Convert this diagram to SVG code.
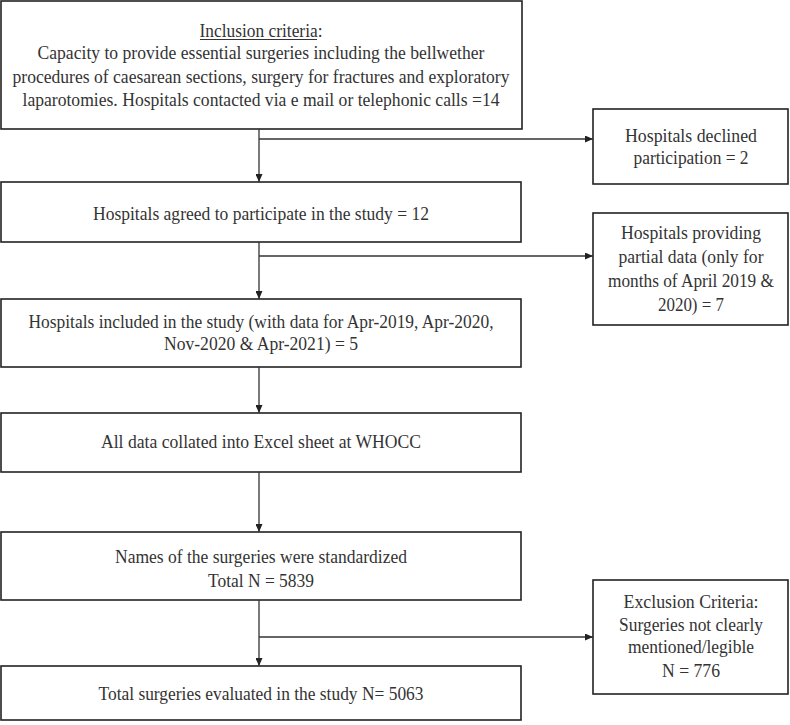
<svg xmlns="http://www.w3.org/2000/svg" width="790" height="725" viewBox="0 0 790 725">
<style>
.box{fill:#fff;stroke:#222;stroke-width:1.6}
.t{font-family:"Liberation Serif","Times New Roman",serif;font-size:18.5px;fill:#333;text-anchor:middle}
.c{fill:none;stroke:#333;stroke-width:1.3}
</style>
<defs>
<marker id="ah" markerUnits="userSpaceOnUse" markerWidth="8" markerHeight="7" refX="8" refY="3.5" orient="auto">
<path d="M0,0 L8,3.5 L0,7 z" fill="#222"/>
</marker>
</defs>
<rect width="790" height="725" fill="#fff"/>
<g id="inclusion">
<rect class="box" x="1" y="1" width="521" height="128"/>
<text class="t" x="261" y="37" textLength="123" lengthAdjust="spacingAndGlyphs">Inclusion criteria:</text>
<line x1="200" y1="39.5" x2="317" y2="39.5" stroke="#333" stroke-width="1"/>
<text class="t" x="261" y="59" textLength="447" lengthAdjust="spacingAndGlyphs">Capacity to provide essential surgeries including the bellwether</text>
<text class="t" x="261" y="83" textLength="497" lengthAdjust="spacingAndGlyphs">procedures of caesarean sections, surgery for fractures and exploratory</text>
<text class="t" x="261" y="106" textLength="477" lengthAdjust="spacingAndGlyphs">laparotomies. Hospitals contacted via e mail or telephonic calls =14</text>
</g>
<g id="declined">
<rect class="box" x="593" y="109" width="195" height="75"/>
<text class="t" x="691" y="142" textLength="132" lengthAdjust="spacingAndGlyphs">Hospitals declined</text>
<text class="t" x="691" y="164" textLength="115" lengthAdjust="spacingAndGlyphs">participation = 2</text>
</g>
<g id="agreed">
<rect class="box" x="1" y="182" width="520" height="60"/>
<text class="t" x="261" y="220" textLength="336" lengthAdjust="spacingAndGlyphs">Hospitals agreed to participate in the study = 12</text>
</g>
<g id="partial">
<rect class="box" x="593" y="213" width="195" height="112"/>
<text class="t" x="691" y="239" textLength="140" lengthAdjust="spacingAndGlyphs">Hospitals providing</text>
<text class="t" x="691" y="263" textLength="145" lengthAdjust="spacingAndGlyphs">partial data (only for</text>
<text class="t" x="691" y="287" textLength="166" lengthAdjust="spacingAndGlyphs">months of April 2019 &amp;</text>
<text class="t" x="691" y="311" textLength="66" lengthAdjust="spacingAndGlyphs">2020) = 7</text>
</g>
<g id="included">
<rect class="box" x="1" y="299" width="520" height="68"/>
<text class="t" x="261" y="328" textLength="465" lengthAdjust="spacingAndGlyphs">Hospitals included in the study (with data for Apr-2019, Apr-2020,</text>
<text class="t" x="261" y="350" textLength="194" lengthAdjust="spacingAndGlyphs">Nov-2020 &amp; Apr-2021) = 5</text>
</g>
<g id="collated">
<rect class="box" x="1" y="413" width="520" height="59"/>
<text class="t" x="261" y="448" textLength="320" lengthAdjust="spacingAndGlyphs">All data collated into Excel sheet at WHOCC</text>
</g>
<g id="standardized">
<rect class="box" x="1" y="532" width="520" height="68"/>
<text class="t" x="261" y="563" textLength="292" lengthAdjust="spacingAndGlyphs">Names of the surgeries were standardized</text>
<text class="t" x="261" y="587" textLength="106" lengthAdjust="spacingAndGlyphs">Total N = 5839</text>
</g>
<g id="exclusion">
<rect class="box" x="593" y="580" width="195" height="114"/>
<text class="t" x="691" y="608" textLength="135" lengthAdjust="spacingAndGlyphs">Exclusion Criteria:</text>
<text class="t" x="691" y="631" textLength="144" lengthAdjust="spacingAndGlyphs">Surgeries not clearly</text>
<text class="t" x="691" y="653" textLength="126" lengthAdjust="spacingAndGlyphs">mentioned/legible</text>
<text class="t" x="691" y="677" textLength="58" lengthAdjust="spacingAndGlyphs">N = 776</text>
</g>
<g id="evaluated">
<rect class="box" x="1" y="666" width="520" height="54"/>
<text class="t" x="261" y="700" textLength="325" lengthAdjust="spacingAndGlyphs">Total surgeries evaluated in the study N= 5063</text>
</g>
<g id="connectors">
<line class="c" x1="259" y1="129" x2="259" y2="182" marker-end="url(#ah)"/>
<line class="c" x1="259" y1="139" x2="593" y2="139" marker-end="url(#ah)"/>
<line class="c" x1="259" y1="242" x2="259" y2="299" marker-end="url(#ah)"/>
<line class="c" x1="259" y1="256" x2="593" y2="256" marker-end="url(#ah)"/>
<line class="c" x1="259" y1="367" x2="259" y2="413" marker-end="url(#ah)"/>
<line class="c" x1="259" y1="472" x2="259" y2="532" marker-end="url(#ah)"/>
<line class="c" x1="259" y1="600" x2="259" y2="666" marker-end="url(#ah)"/>
<line class="c" x1="259" y1="637" x2="593" y2="637" marker-end="url(#ah)"/>
</g>
</svg>
